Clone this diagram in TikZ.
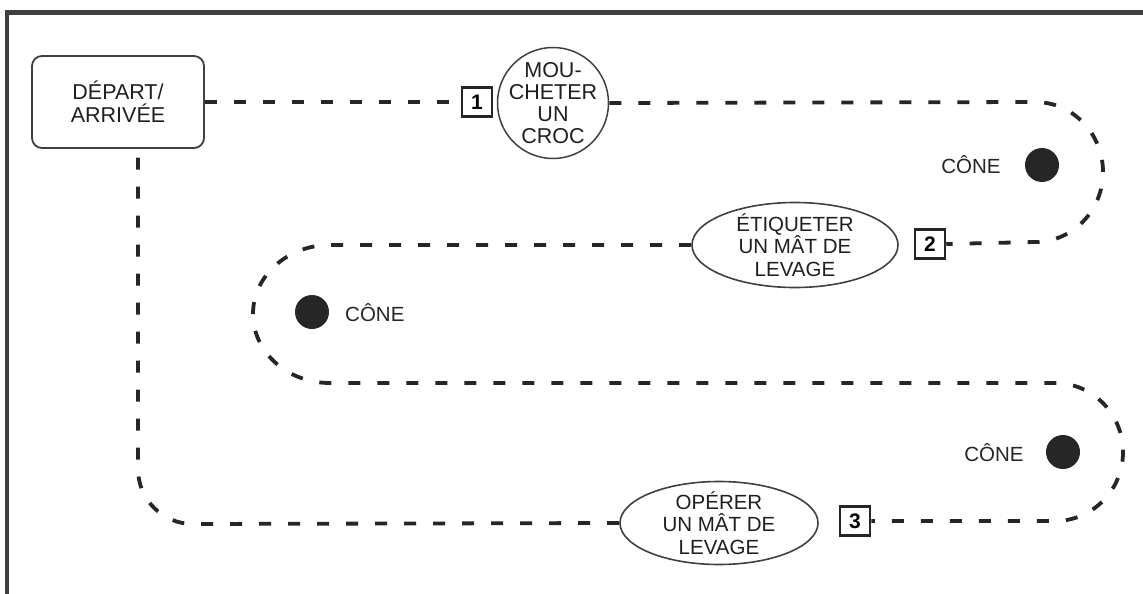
\documentclass[tikz,border=0pt]{standalone}
\usepackage{fontspec}
\setmainfont{Liberation Sans}
\usetikzlibrary{shapes.geometric}
\begin{document}
\begin{tikzpicture}[x=1pt,y=-1pt,
  route/.style={line width=3.8pt, draw=black!85, dash pattern=on 12pt off 17pt},
  lbl/.style={font=\fontsize{20.5}{22.5}\selectfont, align=center, text=black!88},
  startbox/.style={draw=black!75, line width=1.8pt, rounded corners=10pt, minimum width=172pt, minimum height=92pt, inner sep=0pt, lbl, font=\fontsize{21.5}{23}\selectfont},
  numbox/.style={draw=black!85, line width=2.5pt, minimum width=30pt, minimum height=29pt, inner sep=0pt, font=\bfseries\fontsize{21}{22}\selectfont},
  taskc/.style={circle, draw=black!75, line width=1.5pt, minimum size=111pt, inner sep=-6pt, lbl, font=\fontsize{21.5}{22}\selectfont},
  taske/.style={ellipse, draw=black!75, line width=1.6pt, inner sep=-6pt, lbl},
  conedot/.style={circle, fill=black!85, minimum size=34pt, inner sep=0pt},
  conetxt/.style={font=\fontsize{20.5}{22}\selectfont, text=black!85, inner sep=0pt},
  frame/.style={line width=4.5pt, draw=black!75}
]
\useasboundingbox (0,0) rectangle (1143,594);
\fill[white] (0,0) rectangle (1143,594);
\draw[frame] (7,600) -- (7,12.5) -- (1150,12.5);

\node[startbox] (start) at (118,102) {DÉPART/\\ARRIVÉE};
\node[numbox] (n1) at (477,102) {1};
\node[taskc] (t1) at (553,103) {MOU-\\CHETER\\UN\\CROC};
\node[numbox] (n2) at (930,244) {2};
\node[taske, minimum width=206pt, minimum height=85pt] (t2) at (795,245) {ÉTIQUETER\\UN MÂT DE\\LEVAGE};
\node[numbox] (n3) at (855,521) {3};
\node[taske, minimum width=198pt, minimum height=83pt] (t3) at (719,523) {OPÉRER\\UN MÂT DE\\LEVAGE};

\node[conedot] (k1) at (1042,165) {};
\node[conetxt] (k1t) at (971,165) {CÔNE};
\node[conedot] (k2) at (312,312) {};
\node[conetxt, anchor=west] (k2t) at (345,313) {CÔNE};
\node[conedot] (k3) at (1063,452) {};
\node[conetxt] (k3t) at (994,453) {CÔNE};

\draw[route] (start.east) -- (n1.west);
\draw[route] (t1.east) -- (1035,102) arc[start angle=90, end angle=-90, x radius=68pt, y radius=70pt] -- (n2.east);
\draw[route] (t2.west) -- (330,245) arc[start angle=90, end angle=270, x radius=77pt, y radius=69pt] -- (1055,383) arc[start angle=90, end angle=-90, x radius=68pt, y radius=69pt] -- (n3.east);
\draw[route] (t3.west) -- (193,524) arc[start angle=270, end angle=180, radius=55pt] -- (138,0 |- start.south);
\end{tikzpicture}
\end{document}
